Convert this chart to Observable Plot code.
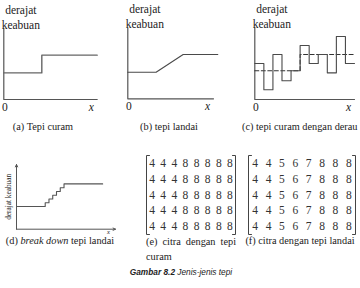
<!DOCTYPE html>
<html>
<head>
<meta charset="utf-8">
<script src="https://cdn.jsdelivr.net/npm/d3@7"></script>
<script src="https://cdn.jsdelivr.net/npm/@observablehq/plot@0.6"></script>
<style>
  html, body { margin: 0; padding: 0; background: #fff; }
  #fig { position: relative; width: 360px; height: 288px; overflow: hidden;
         font-family: "Liberation Serif", "Times New Roman", serif; color: #222; }
  #fig svg { position: absolute; left: 0; top: 0; background: transparent; }
  #fig svg text { font-family: "Liberation Serif", "Times New Roman", serif; }
  .cap { position: absolute; font-size: 10.3px; line-height: 10px; white-space: nowrap; }
  .mid { transform: translate(-50%, -50%); }
  .left { transform: translateY(-50%); }
  .fig-cap { position: absolute; left: 181px; top: 272px; transform: translate(-50%, -50%);
             font-family: "Liberation Sans", Arial, sans-serif; font-size: 8.3px; font-style: italic;
             white-space: nowrap; color: #222; line-height: 10px; }
</style>
</head>
<body>
<div id="fig">
  <div class="cap mid" style="left:43px;top:127px">(a) Tepi curam</div>
  <div class="cap mid" style="left:169px;top:127px">(b) tepi landai</div>
  <div class="cap left" style="left:242px;top:127px">(c) tepi curam dengan derau</div>
  <div class="cap mid" style="left:60px;top:241px">(d) <i>break down</i> tepi landai</div>
  <div class="cap" style="left:146px;top:234px;width:90px;line-height:15px;white-space:normal;text-align:justify">(e) citra dengan tepi curam</div>
  <div class="cap mid" style="left:300px;top:241px">(f) citra dengan tepi landai</div>
  <div class="fig-cap"><b>Gambar 8.2</b> Jenis-jenis tepi</div>
</div>
<script>
// Grey-level profiles, in axis units (0–10 on each axis).
const steepX = [0, 4.07, 10];
const steepY = [3.75, 6.25, 6.25];

const rampX = [0, 3.3, 6.46, 10.5];
const rampY = [3.75, 3.75, 6.25, 6.25];

// Noisy steep edge: one value per pixel, and the underlying ideal edge.
const noisyY = [5.0, 1.35, 6.25, 2.6, 4.0, 7.5, 5.0, 6.25, 3.7, 8.75, 5.0];
const noisyEdgeX = [0, 5, 11];
const noisyEdgeY = [4.0, 6.25, 6.25];

// Ramp edge broken down into discrete steps.
const stairX = [0, 2.9, 3.28, 3.66, 4.04, 4.42, 4.8, 8.7];
const stairY = [3.5, 4.08, 4.66, 5.24, 5.82, 6.4, 7.0, 7.0];

// Image rows (every row of each 5×8 image is identical).
const steepRow = [4, 4, 4, 8, 8, 8, 8, 8];
const rampRow = [4, 4, 5, 6, 7, 8, 8, 8];
const matrixRows = 5;

const axisLabel = "derajat\nkeabuan";
const serifFont = "Liberation Serif";
const lineColor = "#4a4a4a";
const axisColor = "#555";

const fig = document.getElementById("fig");

// Each panel is a full-size overlay; the margins place its frame.
function panel([left, top, right, bottom], x, y, marks) {
  const svg = Plot.plot({
    width: 360, height: 288,
    marginLeft: left, marginTop: top, marginRight: 360 - right, marginBottom: 288 - bottom,
    x: {...x, axis: null},
    y: {...y, axis: null},
    style: {background: "transparent", color: "#222"},
    marks
  });
  fig.appendChild(svg);
}

const pts = (xs, ys) => xs.map((x, i) => ({x, y: ys[i]}));

function profileFrame(xMax) {
  return [
    Plot.line([[0, 10], [0, 0], [xMax, 0]], {x: d => d[0], y: d => d[1], stroke: axisColor, strokeWidth: 1.2}),
    Plot.text([axisLabel], {text: d => d, frameAnchor: "top-left", textAnchor: "middle", dx: 17, dy: 0, lineAnchor: "bottom", lineHeight: 1.3, fontSize: 11.5, fontFamily: serifFont}),
    Plot.text(["0"], {text: d => d, frameAnchor: "bottom-left", textAnchor: "middle", dx: 1, dy: 3, lineAnchor: "top", fontSize: 11.5, fontFamily: serifFont}),
    Plot.text(["x"], {text: d => d, frameAnchor: "bottom-right", textAnchor: "middle", dx: -6, dy: 3, lineAnchor: "top", fontSize: 11.5, fontStyle: "italic", fontFamily: serifFont})
  ];
}

// (a) steep edge
panel([3.3, 28, 96.7, 99], {domain: [0, 10]}, {domain: [0, 10]}, [
  ...profileFrame(10),
  Plot.line(pts(steepX, steepY), {x: "x", y: "y", curve: "step-after", stroke: "#666", strokeWidth: 1.4})
]);

// (b) ramp edge
panel([127.3, 27.5, 213, 98.3], {domain: [0, 10]}, {domain: [0, 10]}, [
  ...profileFrame(10),
  Plot.line(pts(rampX, rampY), {x: "x", y: "y", stroke: lineColor, strokeWidth: 1.1})
]);

// (c) steep edge with noise
const noisyPts = noisyY.map((y, i) => ({x: i, y})).concat({x: noisyY.length, y: noisyY[noisyY.length - 1]});
panel([254.3, 27, 354, 99], {domain: [0, noisyY.length]}, {domain: [0, 10]}, [
  ...profileFrame(noisyY.length),
  Plot.line(pts(noisyEdgeX, noisyEdgeY), {x: "x", y: "y", curve: "step-after", stroke: "#333", strokeWidth: 1.1, strokeDasharray: "4,2.5"}),
  Plot.line(noisyPts, {x: "x", y: "y", curve: "step-after", stroke: lineColor, strokeWidth: 1.1})
]);

// (d) ramp broken down into steps
panel([16, 164, 115, 228.7], {domain: [0, 10]}, {domain: [0, 10]}, [
  Plot.arrow([{x1: 0, y1: 0, x2: 0, y2: 10}, {x1: 0, y1: 0, x2: 10, y2: 0}],
    {x1: "x1", y1: "y1", x2: "x2", y2: "y2", stroke: axisColor, strokeWidth: 1, headLength: 4, headAngle: 50}),
  Plot.text(["derajat keabuan"], {text: d => d, frameAnchor: "left", textAnchor: "middle", dx: -8, rotate: -90, fontSize: 7.3, fontFamily: serifFont}),
  Plot.text(["x"], {text: d => d, frameAnchor: "bottom-right", textAnchor: "middle", dx: -7, dy: 0, lineAnchor: "top", fontSize: 6.5, fontStyle: "italic", fontFamily: serifFont}),
  Plot.line(pts(stairX, stairY), {x: "x", y: "y", curve: "step-after", stroke: "#555", strokeWidth: 1.1})
]);

// (e), (f) image matrices with square brackets
function matrix(box, row, serifPx) {
  const n = row.length;
  const cells = d3.range(matrixRows).flatMap(r => row.map((v, c) => ({r, c, v})));
  const serif = serifPx * n / (box[2] - box[0]);
  const lo = -0.5, hiX = n - 0.5, hiY = matrixRows - 0.5;
  const leftBr = [[lo + serif, lo], [lo, lo], [lo, hiY], [lo + serif, hiY]];
  const rightBr = [[hiX - serif, lo], [hiX, lo], [hiX, hiY], [hiX - serif, hiY]];
  panel(box, {domain: [lo, hiX]}, {domain: [hiY, lo]}, [
    Plot.line(leftBr, {x: d => d[0], y: d => d[1], stroke: "#444", strokeWidth: 1}),
    Plot.line(rightBr, {x: d => d[0], y: d => d[1], stroke: "#444", strokeWidth: 1}),
    Plot.text(cells, {x: "c", y: "r", text: "v", fontSize: 11.5, fill: "#333", fontFamily: serifFont})
  ]);
}
matrix([146, 155, 235, 234], steepRow, 3);
matrix([248, 155, 355, 234], rampRow, 3);
</script>
</body>
</html>
